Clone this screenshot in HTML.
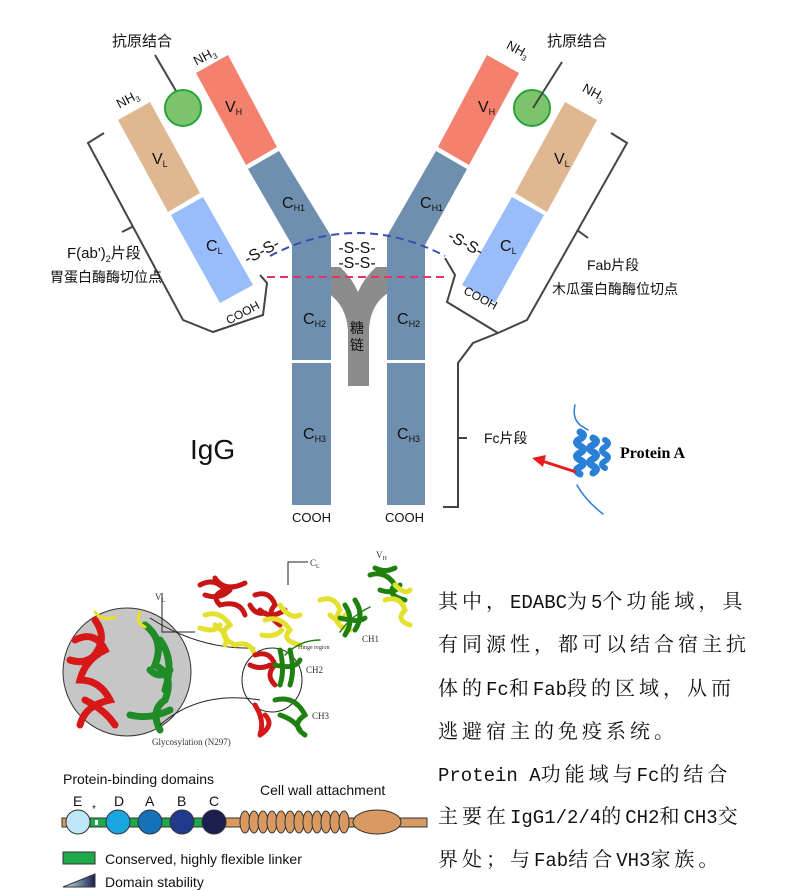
<!DOCTYPE html>
<html><head><meta charset="utf-8"><style>
html,body{margin:0;padding:0;background:#fff;width:794px;height:891px;overflow:hidden}
.t{position:absolute;left:438px;font-family:"Liberation Mono","Noto Serif CJK SC",serif;font-size:19px;color:#111;white-space:nowrap;line-height:24px}
.t i{font-style:normal;letter-spacing:4px;font-size:20px}
</style></head><body>
<svg width="794" height="891" viewBox="0 0 794 891" xmlns="http://www.w3.org/2000/svg" style="position:absolute;left:0;top:0" font-family="Liberation Sans, Noto Sans CJK SC, sans-serif">
<g fill="none" stroke="#444" stroke-width="2">
<polyline points="611,133 627,143 527,320 498,333 473,343 458,363 458,507 443,507"/>
<line x1="458" y1="438" x2="467" y2="438"/>
<line x1="577" y1="230" x2="588" y2="238"/>
<polyline points="445,258 455,275 447,302 498,333"/>
<polyline points="104,133 88,143 183,320 213,332 263,315 267,283 260,275"/>
<line x1="122" y1="232" x2="132" y2="227"/>
</g>
<path d="M328,267 L340,267 Q352,278 358,292 Q364,278 376,267 L388,267 L388,293 Q370,305 369,330 L369,386 L348,386 L348,330 Q346,305 328,293 Z" fill="#8c8c8c"/>
<polygon points="118,120 150,102 200,193 168,212" fill="#dfb891"/>
<polygon points="171,215 203,197 253,285 220,303" fill="#99bdfb"/>
<polygon points="196,73 228,55 277,147 246,165" fill="#f4806e"/>
<polygon points="248,169 279,151 331,236 331,360 292,360 292,245" fill="#6f8fae"/>
<rect x="292" y="363" width="39" height="142" fill="#6f8fae"/>
<polygon points="597,120 565,102 515,193 547,212" fill="#dfb891"/>
<polygon points="544,215 512,197 462,285 495,303" fill="#99bdfb"/>
<polygon points="519,73 487,55 438,147 469,165" fill="#f4806e"/>
<polygon points="467,169 436,151 387,236 387,360 425,360 425,245" fill="#6f8fae"/>
<rect x="387" y="363" width="38" height="142" fill="#6f8fae"/>
<line x1="155" y1="55" x2="183" y2="103" stroke="#444" stroke-width="2"/>
<circle cx="183" cy="108" r="18" fill="#7dc36b" stroke="#2aa33a" stroke-width="2"/>
<circle cx="532" cy="108" r="18" fill="#7dc36b" stroke="#2aa33a" stroke-width="2"/>
<line x1="562" y1="62" x2="533" y2="108" stroke="#444" stroke-width="2"/>
<path d="M270,256 Q357,210 445,256" fill="none" stroke="#3a4db0" stroke-width="2" stroke-dasharray="8,5"/>
<line x1="267" y1="277" x2="448" y2="277" stroke="#e8306a" stroke-width="2" stroke-dasharray="8,5"/>
<g font-size="15" fill="#111">
<text x="112" y="46">抗原结合</text>
<text x="547" y="46">抗原结合</text>
<text x="67" y="258">F(ab')<tspan font-size="9" dy="4">2</tspan><tspan dy="-4">片段</tspan></text>
<text x="50" y="282" font-size="14">胃蛋白酶酶切位点</text>
<text x="587" y="270" font-size="14">Fab片段</text>
<text x="552" y="294" font-size="14">木瓜蛋白酶酶位切点</text>
<text x="484" y="443" font-size="14">Fc片段</text>
<text x="190" y="459" font-size="28">IgG</text>
<text x="350" y="333" font-size="14">糖</text>
<text x="350" y="350" font-size="14">链</text>
<text x="357" y="253" text-anchor="middle" font-size="16">-S-S-</text>
<text x="357" y="268" text-anchor="middle" font-size="16">-S-S-</text>
<text x="243" y="258" font-size="16" transform="rotate(-28 258 252)">-S-S-</text>
<text x="442" y="246" font-size="16" transform="rotate(28 458 252)">-S-S-</text>
<text x="292" y="522" font-size="13">COOH</text>
<text x="385" y="522" font-size="13">COOH</text>
<text x="224" y="318" font-size="12" transform="rotate(-28 240 312)">COOH</text>
<text x="458" y="300" font-size="12" transform="rotate(28 474 306)">COOH</text>
<text x="116" y="105" font-size="13" transform="rotate(-28 125 100)">NH<tspan font-size="8" dy="3">3</tspan></text>
<text x="193" y="62" font-size="13" transform="rotate(-28 202 57)">NH<tspan font-size="8" dy="3">3</tspan></text>
<text x="502" y="52" font-size="13" transform="rotate(28 512 57)">NH<tspan font-size="8" dy="3">3</tspan></text>
<text x="578" y="95" font-size="13" transform="rotate(28 588 100)">NH<tspan font-size="8" dy="3">3</tspan></text>
<text x="225" y="112" font-size="16">V<tspan font-size="9" dy="3">H</tspan></text>
<text x="478" y="112" font-size="16">V<tspan font-size="9" dy="3">H</tspan></text>
<text x="152" y="164" font-size="16">V<tspan font-size="9" dy="3">L</tspan></text>
<text x="554" y="164" font-size="16">V<tspan font-size="9" dy="3">L</tspan></text>
<text x="282" y="208" font-size="16">C<tspan font-size="9" dy="3">H1</tspan></text>
<text x="420" y="208" font-size="16">C<tspan font-size="9" dy="3">H1</tspan></text>
<text x="206" y="251" font-size="16">C<tspan font-size="9" dy="3">L</tspan></text>
<text x="500" y="251" font-size="16">C<tspan font-size="9" dy="3">L</tspan></text>
<text x="303" y="324" font-size="16">C<tspan font-size="9" dy="3">H2</tspan></text>
<text x="397" y="324" font-size="16">C<tspan font-size="9" dy="3">H2</tspan></text>
<text x="303" y="439" font-size="16">C<tspan font-size="9" dy="3">H3</tspan></text>
<text x="397" y="439" font-size="16">C<tspan font-size="9" dy="3">H3</tspan></text>
</g>
<g fill="none" stroke="#2a7fd6" stroke-linecap="round">
<path d="M575,405 Q572,418 580,425 L588,430" stroke-width="1.5"/>
<path d="M577,485 Q585,500 603,514" stroke-width="1.5"/>
<path d="M580,432 q7,3 0,7 q-7,3 0,7 q7,3 0,7 q-7,3 0,7 q7,3 0,7 q-7,3 0,7" stroke-width="7"/>
<path d="M593,438 q7,3 0,7 q-7,3 0,7 q7,3 0,7 q-7,3 0,7 q7,3 0,7" stroke-width="7"/>
<path d="M605,440 q6,3 0,7 q-6,3 0,7 q6,3 0,7 q-6,3 0,7" stroke-width="6"/>
</g>
<text x="620" y="458" font-family="Liberation Serif, serif" font-weight="bold" font-size="16">Protein A</text>
<line x1="576" y1="472" x2="542" y2="461" stroke="#e81c1c" stroke-width="3"/>
<polygon points="532,458 546,455 543,467" fill="#e81c1c"/>
<circle cx="127" cy="672" r="64" fill="#c6c6c6" stroke="#333" stroke-width="1"/>
<g fill="none" stroke-linecap="round">
<path d="M75,640 q20,-10 30,10 q-20,10 -25,30 q20,0 30,20 q-25,5 -30,25 M95,620 q15,20 -5,40 M85,700 q20,10 30,25 M70,660 q15,5 25,-5" stroke="#d81818" stroke-width="7"/>
<path d="M145,625 q20,15 10,40 q20,10 10,35 q-15,10 -5,30 M160,640 q15,20 5,50 M130,715 q20,5 40,-5 M150,670 q10,10 20,0" stroke="#1f8c28" stroke-width="7"/>
<path d="M95,612 q8,10 20,5 M140,612 q-5,10 5,15" stroke="#e8e020" stroke-width="3"/>
</g>
<g fill="none" stroke="#222" stroke-width="1">
<path d="M150,618 Q200,650 255,648"/><path d="M160,725 Q200,690 260,700"/>
<ellipse cx="272" cy="680" rx="30" ry="32"/>
<polyline points="162,593 162,632 195,632"/><polyline points="308,562 288,562 288,585"/>
</g>
<g stroke-linecap="round" fill="none">
<path d="M200,585 q15,-8 25,5 q-15,5 -5,15 q20,-5 25,10 M215,578 q10,15 30,5 M205,595 q15,5 25,-5" stroke="#c81616" stroke-width="5"/>
<path d="M205,615 q15,-5 25,10 q-15,10 5,20 q15,-5 20,10 M215,625 q15,10 10,20 M200,628 q15,5 20,-3" stroke="#e4e030" stroke-width="5"/>
<path d="M255,595 q15,-5 20,10 q-10,10 5,20 M260,610 q10,10 25,0 M250,605 q5,10 15,8" stroke="#c81616" stroke-width="5"/>
<path d="M265,620 q15,-5 25,10 q-10,10 10,15 M280,605 q10,15 20,10 M262,635 q12,3 20,-5" stroke="#e4e030" stroke-width="5"/>
<path d="M320,600 q15,-5 20,10 q-10,15 10,20 M330,615 q10,10 15,0" stroke="#e4e030" stroke-width="5"/>
<path d="M345,605 q10,15 0,30 M355,600 q10,15 0,30 M340,618 q20,5 25,0" stroke="#1f8010" stroke-width="5"/>
<path d="M370,575 q15,-5 25,10 q-10,10 10,15 M380,590 q15,5 20,-5 M375,568 q10,5 20,0" stroke="#1f8010" stroke-width="5"/>
<path d="M385,600 q15,-5 20,10 q-10,10 5,15 M395,585 q10,10 15,5" stroke="#e4e030" stroke-width="5"/>
<path d="M255,655 q15,-5 20,10 q-10,10 0,20 M250,665 q10,5 20,0" stroke="#c81616" stroke-width="5"/>
<path d="M280,650 q5,20 0,35 M290,650 q5,20 0,35 M275,665 q20,5 25,-5" stroke="#1f8010" stroke-width="5"/>
<path d="M255,705 q10,15 5,30 M265,715 q10,10 -5,20" stroke="#d81818" stroke-width="5"/>
<path d="M275,700 q20,-5 30,15 q-15,10 0,20 M280,715 q15,5 20,15" stroke="#1f8010" stroke-width="5"/>
<path d="M320,640 q-20,0 -35,15 M340,632 q10,-15 30,-25" stroke="#1f8010" stroke-width="1.5"/>
</g>
<g font-family="Liberation Serif, serif" font-size="9" fill="#333">
<text x="155" y="600">V<tspan font-size="6" dy="2">L</tspan></text>
<text x="310" y="566">C<tspan font-size="6" dy="2">L</tspan></text>
<text x="376" y="558">V<tspan font-size="6" dy="2">H</tspan></text>
<text x="362" y="642">CH1</text><text x="306" y="673">CH2</text><text x="312" y="719">CH3</text>
<text x="298" y="649" font-size="6">Hinge region</text>
<text x="152" y="745">Glycosylation (N297)</text>
</g>
<rect x="62" y="818" width="365" height="9" fill="#d89a60" stroke="#333" stroke-width="1"/>
<rect x="90" y="818" width="120" height="9" fill="#1faa4a" stroke="#333" stroke-width="1"/>
<rect x="95" y="820" width="3" height="5" fill="#fff"/>
<g stroke="#333" stroke-width="1">
<ellipse cx="78" cy="822" rx="12" ry="12" fill="#bfe6f8"/>
<ellipse cx="118" cy="822" rx="12" ry="12" fill="#19a5de"/>
<ellipse cx="150" cy="822" rx="12" ry="12" fill="#1571b8"/>
<ellipse cx="182" cy="822" rx="12" ry="12" fill="#223a8c"/>
<ellipse cx="214" cy="822" rx="12" ry="12" fill="#1a1f4e"/>
<g fill="#d89a60">
<ellipse cx="245" cy="822" rx="5" ry="11"/><ellipse cx="254" cy="822" rx="5" ry="11"/><ellipse cx="263" cy="822" rx="5" ry="11"/><ellipse cx="272" cy="822" rx="5" ry="11"/><ellipse cx="281" cy="822" rx="5" ry="11"/><ellipse cx="290" cy="822" rx="5" ry="11"/><ellipse cx="299" cy="822" rx="5" ry="11"/><ellipse cx="308" cy="822" rx="5" ry="11"/><ellipse cx="317" cy="822" rx="5" ry="11"/><ellipse cx="326" cy="822" rx="5" ry="11"/><ellipse cx="335" cy="822" rx="5" ry="11"/><ellipse cx="344" cy="822" rx="5" ry="11"/>
<ellipse cx="377" cy="822" rx="24" ry="12"/>
</g>
</g>
<g font-size="14" fill="#111">
<text x="63" y="784">Protein-binding domains</text>
<text x="260" y="795">Cell wall attachment</text>
<text x="73" y="806">E</text><text x="92" y="812" font-size="10">*</text>
<text x="114" y="806">D</text><text x="145" y="806">A</text><text x="177" y="806">B</text><text x="209" y="806">C</text>
<text x="105" y="864">Conserved, highly flexible linker</text>
<text x="105" y="887">Domain stability</text>
</g>
<defs><linearGradient id="g1" x1="0" x2="1"><stop offset="0" stop-color="#cfeefa"/><stop offset="1" stop-color="#1a1f4e"/></linearGradient></defs>
<rect x="63" y="852" width="32" height="12" fill="#1faa4a" stroke="#333"/>
<polygon points="63,887 95,874 95,887" fill="url(#g1)" stroke="#333"/>
</svg>
<div class="t" style="top:591px"><i>其中，</i>EDABC<i>为</i>5<i>个功能域，具</i></div>
<div class="t" style="top:634px"><i>有同源性，都可以结合宿主抗</i></div>
<div class="t" style="top:678px"><i>体的</i>Fc<i>和</i>Fab<i>段的区域，从而</i></div>
<div class="t" style="top:721px"><i>逃避宿主的免疫系统。</i></div>
<div class="t" style="top:764px">Protein A<i>功能域与</i>Fc<i>的结合</i></div>
<div class="t" style="top:806px"><i>主要在</i>IgG1/2/4<i>的</i>CH2<i>和</i>CH3<i>交</i></div>
<div class="t" style="top:849px"><i>界处；与</i>Fab<i>结合</i>VH3<i>家族。</i></div>
</body></html>
